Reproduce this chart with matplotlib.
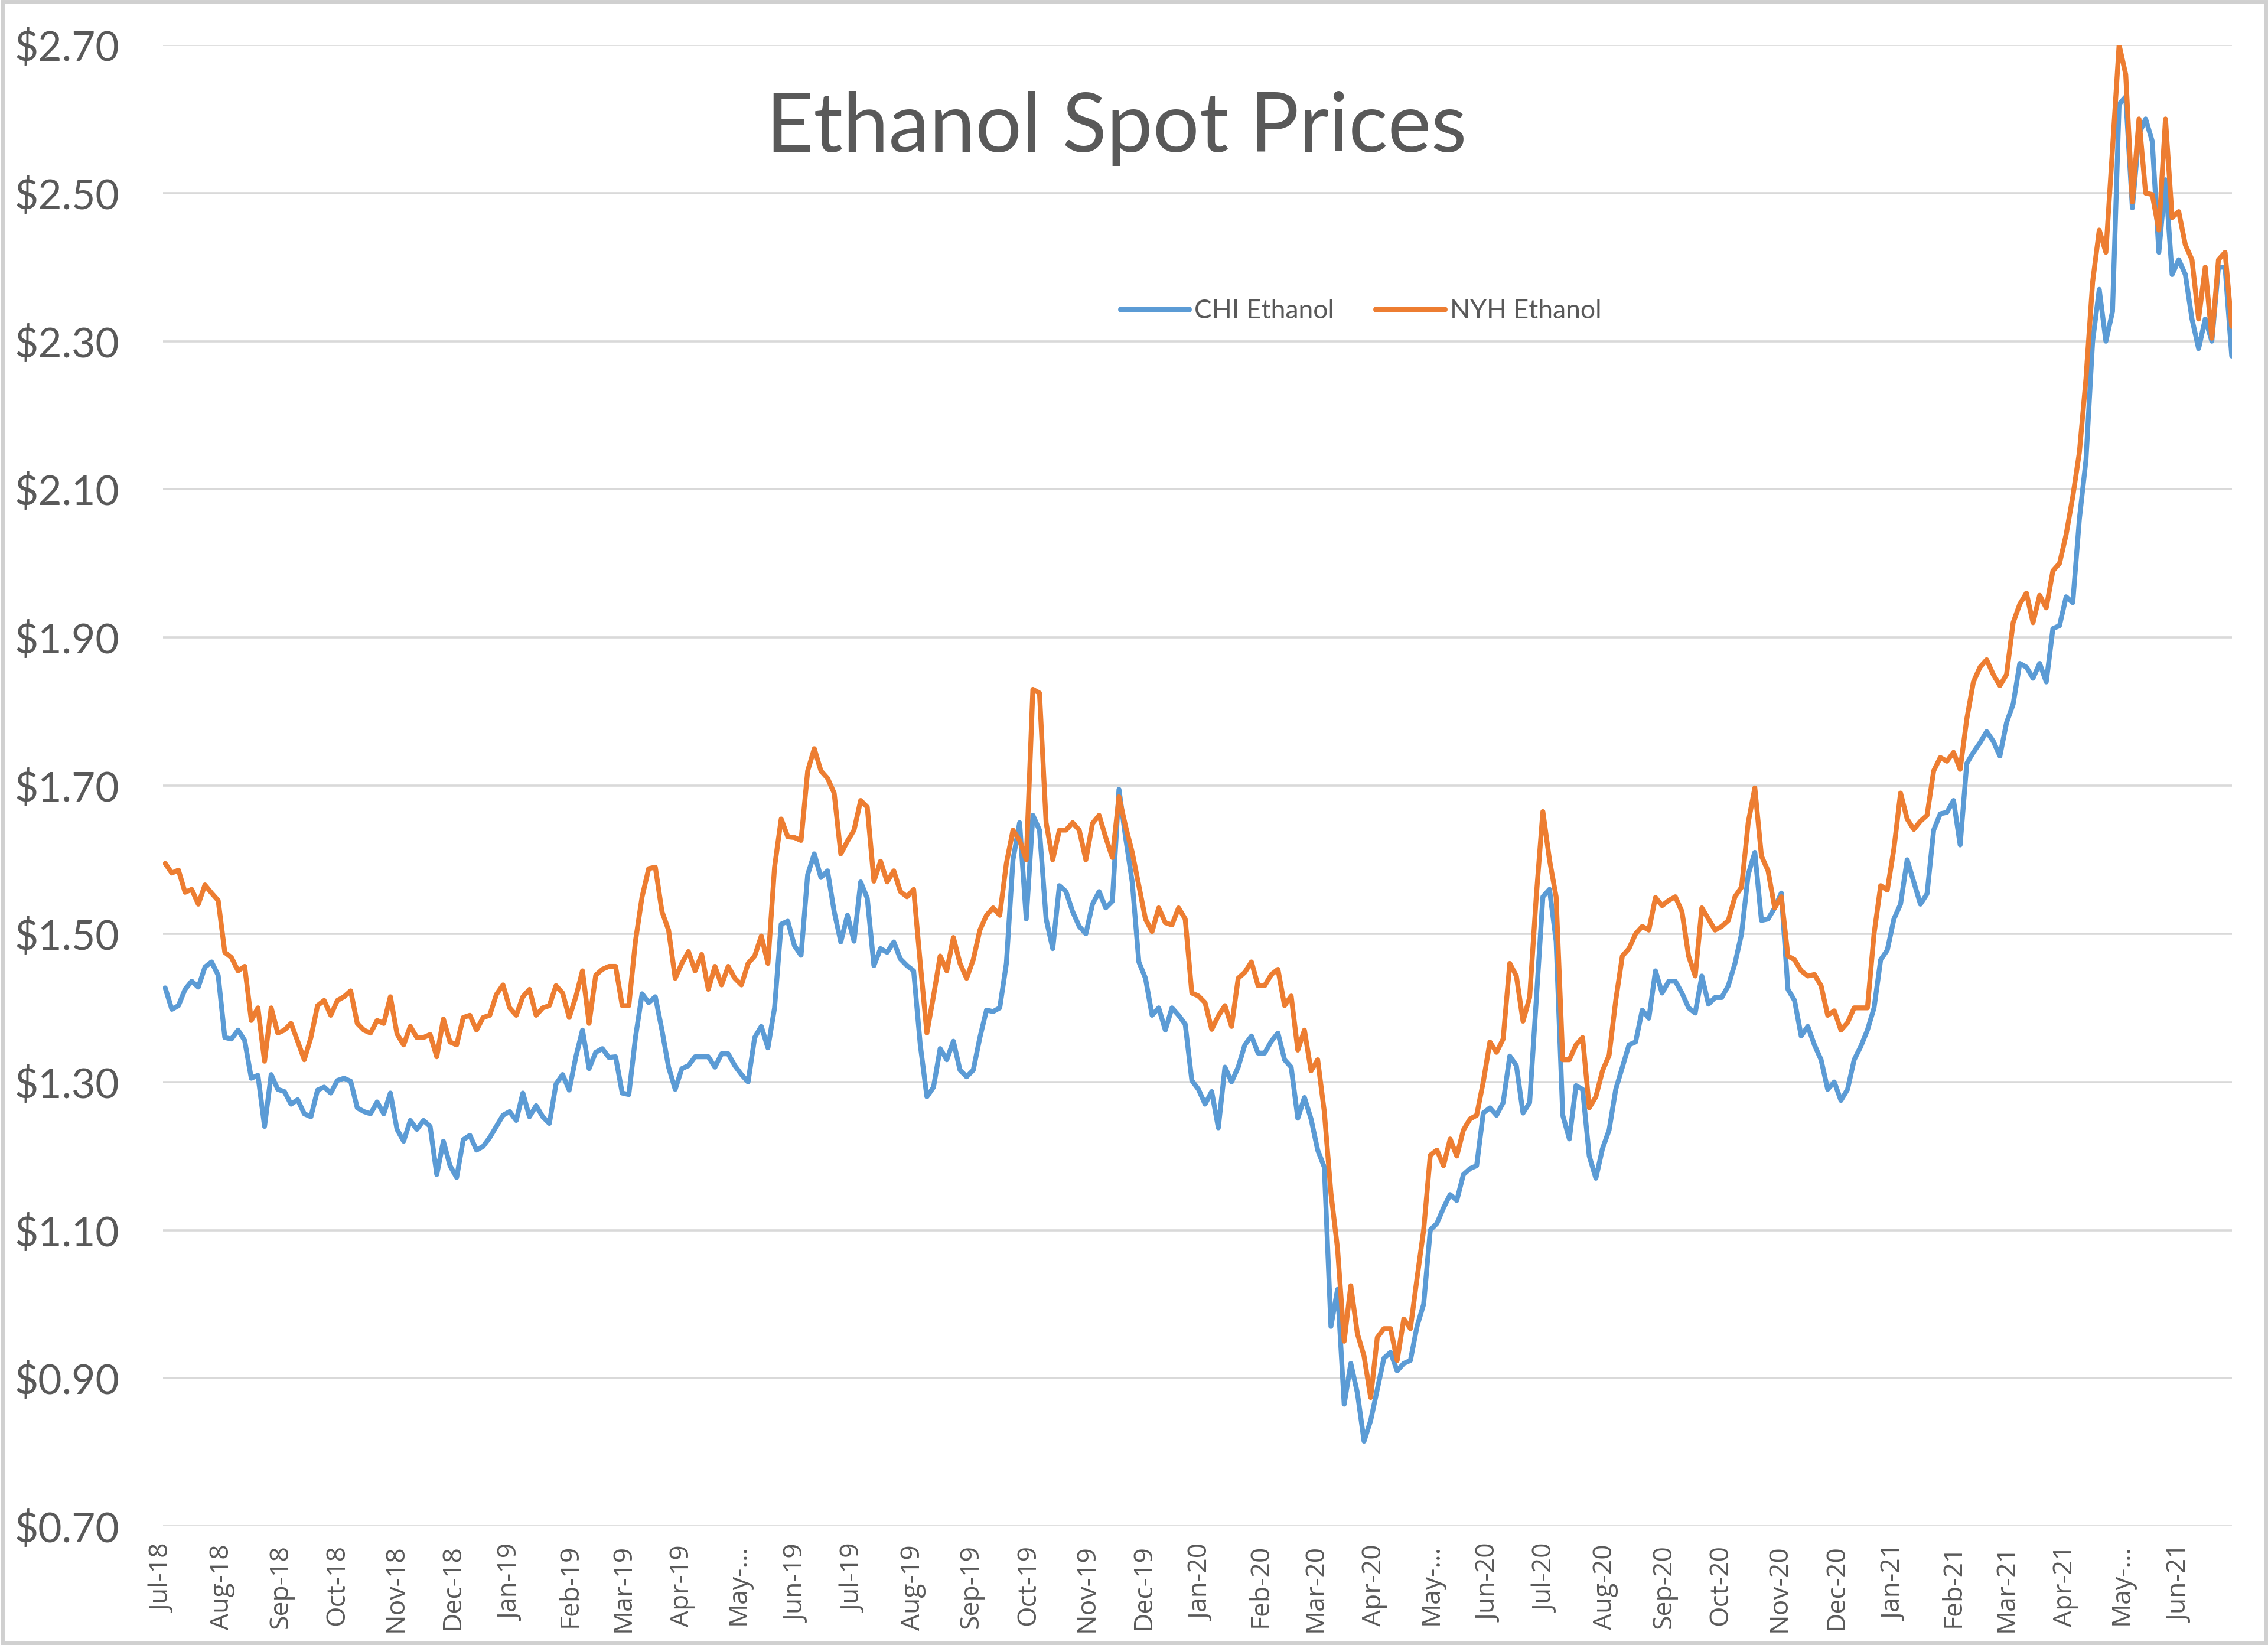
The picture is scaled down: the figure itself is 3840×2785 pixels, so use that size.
import matplotlib
matplotlib.use("Agg")
import matplotlib.pyplot as plt
from matplotlib.patches import Rectangle
import pandas as pd

# ---- data: readings every half week (3.5 days), first reading 2018-07-02 ----
first_reading = "2018-07-02"
nyh_ethanol = [
    1.595, 1.582, 1.586, 1.556, 1.56, 1.54, 1.566, 1.555, 1.545, 1.475,
    1.468, 1.45, 1.456, 1.383, 1.40, 1.328, 1.40, 1.366, 1.37, 1.379,
    1.355, 1.33, 1.36, 1.403, 1.41, 1.39, 1.41, 1.415, 1.423, 1.379,
    1.37, 1.366, 1.383, 1.379, 1.415, 1.365, 1.35, 1.375, 1.36, 1.36,
    1.364, 1.334, 1.385, 1.354, 1.35, 1.387, 1.39, 1.37, 1.387, 1.39,
    1.418, 1.431, 1.40, 1.39, 1.415, 1.425, 1.39, 1.40, 1.403, 1.43,
    1.42, 1.387, 1.415, 1.45, 1.379, 1.444, 1.452, 1.456, 1.456, 1.403,
    1.403, 1.49, 1.55, 1.588, 1.59, 1.53, 1.505, 1.44, 1.46, 1.476,
    1.45, 1.472, 1.425, 1.456, 1.431, 1.456, 1.44, 1.431, 1.46, 1.47,
    1.497, 1.46, 1.59, 1.655, 1.631, 1.63, 1.626, 1.72, 1.75, 1.72,
    1.71, 1.69, 1.608, 1.625, 1.64, 1.68, 1.671, 1.571, 1.598, 1.57,
    1.585, 1.557, 1.55, 1.56, 1.46, 1.366, 1.416, 1.47, 1.45, 1.495,
    1.46, 1.44, 1.465, 1.505, 1.525, 1.535, 1.525, 1.595, 1.64, 1.626,
    1.60, 1.83, 1.825, 1.65, 1.60, 1.64, 1.64, 1.65, 1.64, 1.60,
    1.649, 1.66, 1.63, 1.603, 1.685, 1.645, 1.61, 1.565, 1.52, 1.503,
    1.535, 1.515, 1.512, 1.535, 1.52, 1.42, 1.416, 1.407, 1.371, 1.389,
    1.403, 1.375, 1.44, 1.448, 1.462, 1.43, 1.43, 1.445, 1.452, 1.403,
    1.416, 1.343, 1.37, 1.315, 1.33, 1.26, 1.15, 1.075, 0.95, 1.025,
    0.96, 0.93, 0.874, 0.955, 0.967, 0.967, 0.924, 0.98, 0.967, 1.035,
    1.10, 1.201, 1.208, 1.187, 1.223, 1.20, 1.235, 1.25, 1.255, 1.30,
    1.354, 1.34, 1.358, 1.46, 1.443, 1.382, 1.414, 1.55, 1.665, 1.60,
    1.55, 1.33, 1.33, 1.35, 1.36, 1.265, 1.28, 1.315, 1.336, 1.41,
    1.47, 1.48, 1.50, 1.51, 1.505, 1.549, 1.538, 1.545, 1.55, 1.53,
    1.47, 1.443, 1.535, 1.52, 1.505, 1.51, 1.518, 1.55, 1.563, 1.65,
    1.697, 1.605, 1.585, 1.535, 1.55, 1.47, 1.465, 1.45, 1.443, 1.445,
    1.43, 1.39, 1.396, 1.37, 1.38, 1.40, 1.40, 1.40, 1.50, 1.565,
    1.559, 1.615, 1.69, 1.655, 1.641, 1.652, 1.66, 1.72, 1.738, 1.733,
    1.745, 1.722, 1.79, 1.84, 1.86, 1.87, 1.85, 1.835, 1.85, 1.92,
    1.945, 1.96, 1.92, 1.957, 1.94, 1.99, 2.00, 2.039, 2.09, 2.15,
    2.25, 2.38, 2.45, 2.42, 2.56, 2.70, 2.66, 2.488, 2.60, 2.50,
    2.498, 2.45, 2.60, 2.467, 2.475, 2.43, 2.41, 2.33, 2.40, 2.304,
    2.41, 2.42, 2.32,
]
chi_ethanol = [
    1.427, 1.398, 1.403, 1.425, 1.436, 1.428, 1.455, 1.462, 1.444, 1.36,
    1.358, 1.37, 1.356, 1.305, 1.309, 1.24, 1.31, 1.29, 1.287, 1.27,
    1.276, 1.257, 1.253, 1.289, 1.293, 1.285, 1.302, 1.305, 1.301, 1.265,
    1.26, 1.257, 1.273, 1.257, 1.285, 1.236, 1.22, 1.248, 1.236, 1.248,
    1.24, 1.175, 1.22, 1.187, 1.171, 1.222, 1.228, 1.208, 1.213, 1.225,
    1.24, 1.255, 1.26, 1.248, 1.285, 1.253, 1.268, 1.253, 1.244, 1.297,
    1.31, 1.289, 1.334, 1.37, 1.318, 1.34, 1.345, 1.333, 1.334, 1.285,
    1.283, 1.36, 1.419, 1.407, 1.415, 1.37, 1.32, 1.29, 1.318, 1.322,
    1.334, 1.334, 1.334, 1.32, 1.338, 1.338, 1.322, 1.31, 1.30, 1.36,
    1.375, 1.346, 1.40, 1.513, 1.517, 1.484, 1.471, 1.58, 1.608, 1.576,
    1.585, 1.53, 1.489, 1.525, 1.49, 1.57, 1.548, 1.457, 1.48, 1.475,
    1.489, 1.466, 1.457, 1.45, 1.35, 1.28, 1.293, 1.345, 1.33, 1.355,
    1.316, 1.307, 1.316, 1.36, 1.397, 1.395, 1.40, 1.46, 1.60, 1.65,
    1.52, 1.66, 1.64, 1.52, 1.48, 1.565, 1.557, 1.53, 1.51, 1.50,
    1.54, 1.557, 1.535, 1.544, 1.695, 1.63, 1.57, 1.462, 1.44, 1.39,
    1.40, 1.37, 1.40, 1.39, 1.378, 1.302, 1.29, 1.27, 1.287, 1.238,
    1.32, 1.30, 1.32, 1.35, 1.362, 1.339, 1.339, 1.355, 1.366, 1.33,
    1.32, 1.251, 1.279, 1.25, 1.208, 1.185, 0.97, 1.02, 0.865, 0.92,
    0.88, 0.815, 0.843, 0.885, 0.927, 0.935, 0.91, 0.92, 0.924, 0.97,
    1.00, 1.10, 1.109, 1.13, 1.148, 1.14, 1.175, 1.183, 1.187, 1.258,
    1.265, 1.255, 1.272, 1.335, 1.322, 1.258, 1.272, 1.41, 1.55, 1.56,
    1.49, 1.255, 1.223, 1.295, 1.29, 1.20, 1.17, 1.21, 1.235, 1.29,
    1.32, 1.35, 1.354, 1.397, 1.386, 1.45, 1.42, 1.436, 1.436, 1.42,
    1.40, 1.393, 1.443, 1.405, 1.414, 1.414, 1.43, 1.46, 1.50, 1.58,
    1.61, 1.518, 1.52, 1.535, 1.555, 1.425, 1.41, 1.362, 1.375, 1.35,
    1.33, 1.29, 1.30, 1.275, 1.29, 1.33, 1.348, 1.37, 1.40, 1.465,
    1.478, 1.52, 1.54, 1.60, 1.57, 1.54, 1.554, 1.64, 1.662, 1.664,
    1.68, 1.62, 1.73, 1.745, 1.758, 1.773, 1.76, 1.74, 1.785, 1.81,
    1.865, 1.86, 1.845, 1.865, 1.84, 1.912, 1.916, 1.955, 1.947, 2.06,
    2.14, 2.30, 2.37, 2.30, 2.34, 2.62, 2.63, 2.48, 2.58, 2.60,
    2.57, 2.42, 2.518, 2.39, 2.41, 2.39, 2.33, 2.29, 2.33, 2.30,
    2.40, 2.40, 2.28,
]
month_labels = [
    "Jul-18", "Aug-18", "Sep-18", "Oct-18", "Nov-18", "Dec-18",
    "Jan-19", "Feb-19", "Mar-19", "Apr-19", "May-...", "Jun-19",
    "Jul-19", "Aug-19", "Sep-19", "Oct-19", "Nov-19", "Dec-19",
    "Jan-20", "Feb-20", "Mar-20", "Apr-20", "May-...", "Jun-20",
    "Jul-20", "Aug-20", "Sep-20", "Oct-20", "Nov-20", "Dec-20",
    "Jan-21", "Feb-21", "Mar-21", "Apr-21", "May-...", "Jun-21",
]
y_ticks = [0.70, 0.90, 1.10, 1.30, 1.50, 1.70, 1.90, 2.10, 2.30, 2.50, 2.70]

dates_chi = pd.date_range(first_reading, periods=len(chi_ethanol), freq="84h")
dates_nyh = pd.date_range(first_reading, periods=len(nyh_ethanol), freq="84h")
month_ticks = pd.date_range("2018-07-01", periods=len(month_labels), freq="MS")

# ---- figure ----
FONT = "Lato"
GRAY = "#595959"
fig = plt.figure(figsize=(19.2, 13.925), dpi=200)
ax = fig.add_axes([0.072, 0.0721, 0.912, 0.9006])

ax.plot(dates_chi, chi_ethanol, color="#5B9BD5", lw=3.0, label="CHI Ethanol",
        solid_joinstyle="round", solid_capstyle="round", zorder=3)
ax.plot(dates_nyh, nyh_ethanol, color="#ED7D31", lw=3.0, label="NYH Ethanol",
        solid_joinstyle="round", solid_capstyle="round", zorder=4)

ax.set_ylim(0.70, 2.70)
ax.set_xlim(pd.Timestamp("2018-07-01"), max(dates_chi[-1], dates_nyh[-1]))
ax.set_yticks(y_ticks)
ax.set_yticklabels([f"${v:.2f}" for v in y_ticks], fontsize=25,
                   color=GRAY, family=FONT)
ax.set_xticks(month_ticks)
ax.set_xticklabels(month_labels, rotation=90, fontsize=16, color=GRAY,
                   family="Open Sans", va="top", ha="center")
ax.tick_params(axis="y", length=0, pad=0)
ax.tick_params(axis="x", length=0, pad=11)
for lbl in ax.get_yticklabels():
    lbl.set_horizontalalignment("left")
    lbl.set_x(-0.0719)
for s in ax.spines.values():
    s.set_visible(False)
ax.grid(axis="y", color="#D9D9D9", lw=1.3)
ax.set_axisbelow(True)

fig.text(772 / 1568, 1 - 89 / 1137, "Ethanol Spot Prices", fontsize=50,
         color=GRAY, family=FONT, ha="center", va="center")

leg = ax.legend(loc="center", bbox_to_anchor=(941 / 1568, 1 - 215 / 1137),
                bbox_transform=fig.transFigure, ncol=2, frameon=False,
                prop={"family": FONT, "size": 16}, handlelength=2.6,
                handletextpad=0.2, columnspacing=1.6)
for t in leg.get_texts():
    t.set_color(GRAY)
for h in leg.get_lines():
    h.set_linewidth(3.6)
    h.set_solid_capstyle("round")

fig.patches.append(Rectangle((0.001, 0.001), 0.998, 0.998, transform=fig.transFigure,
                             fill=False, edgecolor="#D0D0D0", lw=2.5))

fig.savefig("out.png", dpi=200, facecolor="white")
